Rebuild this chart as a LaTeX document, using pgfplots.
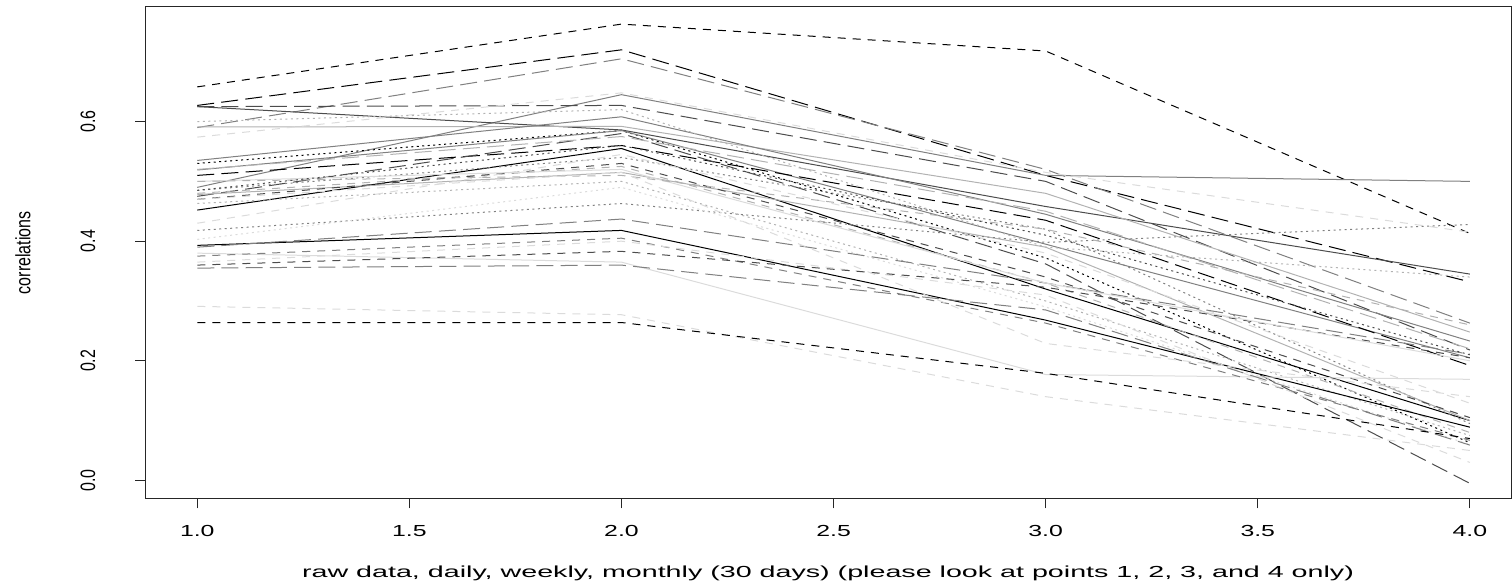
\documentclass[border=0pt]{standalone}
\usepackage{fontspec}
\setmainfont{Liberation Sans}
\usepackage{pgfplots}
\pgfplotsset{compat=1.18}
\newcommand\hx[1]{\scalebox{1.55}[1]{#1}}
\newcommand\hxl[1]{\scalebox{1.79}[1]{#1}}
\newcommand\vy[1]{\scalebox{1}[1.3]{#1}}
\definecolor{c1}{gray}{0}
\definecolor{c2}{gray}{0.3}
\definecolor{c3}{gray}{0.5}
\definecolor{c4}{gray}{0.7}
\definecolor{c5}{gray}{0.86}
\pgfplotsset{
  sl/.style={solid, line width=0.5pt},
  dl/.style={line width=0.5pt, dash pattern=on 4pt off 3.5pt},
  ll/.style={line width=0.5pt, dash pattern=on 8.5pt off 3.6pt},
  ol/.style={line width=0.5pt, dash pattern=on 1pt off 1.75pt},
}
\begin{document}
\begin{tikzpicture}
\begin{axis}[
  scale only axis, width=682.5pt, height=245.5pt,
  xmin=0.877, xmax=4.097, ymin=-0.03, ymax=0.7916,
  axis line style={line width=0.5pt, black!85},
  tick align=outside, xtick pos=bottom, ytick pos=left,
  major tick length=5pt,
  tick style={line width=0.5pt, black!85},
  font=\fontsize{8}{9.6}\selectfont,
  xtick={1,1.5,2,2.5,3,3.5,4},
  xticklabels={\hx{1.0},\hx{1.5},\hx{2.0},\hx{2.5},\hx{3.0},\hx{3.5},\hx{4.0}},
  ytick={0,0.2,0.4,0.6},
  yticklabels={\vy{0.0},\vy{0.2},\vy{0.4},\vy{0.6}},
  xticklabel style={anchor=north},
  xticklabel shift=4.8pt,
  yticklabel style={rotate=90, anchor=south},
  yticklabel shift=16.3pt,
  every axis x label/.style={at={(axis description cs:0.5,0)}, anchor=base, yshift=-39.5pt},
  every axis y label/.style={at={(axis description cs:-0.0895,0.5)}, rotate=90, anchor=center},
  xlabel={\hxl{raw data, daily, weekly, monthly (30 days) (please look at points 1, 2, 3, and 4 only)}},
  ylabel={\vy{correlations}},
  clip=true,
]
\addplot[dl, c1] coordinates {(1,0.658) (2,0.763) (3,0.718) (4,0.413)};
\addplot[ll, c1] coordinates {(1,0.627) (2,0.720) (3,0.510) (4,0.332)};
\addplot[ll, c3] coordinates {(1,0.590) (2,0.705) (3,0.520) (4,0.263)};
\addplot[sl, c3] coordinates {(1,0.490) (2,0.645) (3,0.510) (4,0.500)};
\addplot[ll, c2] coordinates {(1,0.625) (2,0.627) (3,0.500) (4,0.218)};
\addplot[sl, c2] coordinates {(1,0.625) (2,0.586) (3,0.458) (4,0.345)};
\addplot[sl, c4] coordinates {(1,0.591) (2,0.592) (3,0.480) (4,0.248)};
\addplot[dl, c5] coordinates {(1,0.574) (2,0.648) (3,0.515) (4,0.415)};
\addplot[sl, c3] coordinates {(1,0.535) (2,0.608) (3,0.445) (4,0.233)};
\addplot[ol, c1] coordinates {(1,0.530) (2,0.585) (3,0.372) (4,0.063)};
\addplot[sl, c3] coordinates {(1,0.519) (2,0.585) (3,0.395) (4,0.205)};
\addplot[ll, c1] coordinates {(1,0.510) (2,0.560) (3,0.435) (4,0.192)};
\addplot[sl, c1] coordinates {(1,0.452) (2,0.555) (3,0.320) (4,0.100)};
\addplot[ll, c2] coordinates {(1,0.475) (2,0.580) (3,0.362) (4,-0.005)};
\addplot[ol, c3] coordinates {(1,0.485) (2,0.540) (3,0.420) (4,0.095)};
\addplot[dl, c4] coordinates {(1,0.480) (2,0.525) (3,0.330) (4,0.080)};
\addplot[sl, c4] coordinates {(1,0.478) (2,0.515) (3,0.390) (4,0.100)};
\addplot[dl, c2] coordinates {(1,0.470) (2,0.530) (3,0.340) (4,0.105)};
\addplot[ol, c4] coordinates {(1,0.463) (2,0.500) (3,0.300) (4,0.075)};
\addplot[dl, c5] coordinates {(1,0.430) (2,0.545) (3,0.380) (4,0.129)};
\addplot[ol, c3] coordinates {(1,0.418) (2,0.463) (3,0.398) (4,0.428)};
\addplot[ol, c5] coordinates {(1,0.403) (2,0.490) (3,0.290) (4,0.060)};
\addplot[sl, c1] coordinates {(1,0.393) (2,0.418) (3,0.268) (4,0.089)};
\addplot[ll, c3] coordinates {(1,0.390) (2,0.437) (3,0.330) (4,0.211)};
\addplot[sl, c5] coordinates {(1,0.380) (2,0.365) (3,0.177) (4,0.169)};
\addplot[dl, c3] coordinates {(1,0.375) (2,0.405) (3,0.263) (4,0.067)};
\addplot[dl, c5] coordinates {(1,0.365) (2,0.400) (3,0.310) (4,0.030)};
\addplot[dl, c2] coordinates {(1,0.360) (2,0.383) (3,0.323) (4,0.205)};
\addplot[ll, c3] coordinates {(1,0.355) (2,0.360) (3,0.285) (4,0.059)};
\addplot[dl, c5] coordinates {(1,0.291) (2,0.277) (3,0.140) (4,0.050)};
\addplot[dl, c1] coordinates {(1,0.264) (2,0.264) (3,0.179) (4,0.070)};
\addplot[sl, c5] coordinates {(1,0.500) (2,0.520) (3,0.330) (4,0.200)};
\addplot[ol, c4] coordinates {(1,0.600) (2,0.620) (3,0.390) (4,0.340)};
\addplot[ll, c4] coordinates {(1,0.520) (2,0.575) (3,0.450) (4,0.220)};
\addplot[dl, c4] coordinates {(1,0.500) (2,0.510) (3,0.420) (4,0.260)};
\addplot[dl, c5] coordinates {(1,0.470) (2,0.515) (3,0.229) (4,0.140)};
\addplot[ol, c2] coordinates {(1,0.485) (2,0.560) (3,0.410) (4,0.210)};
\end{axis}
\path ([xshift=-72.5pt,yshift=-41pt]current axis.south west) rectangle ([xshift=0.5pt,yshift=3.5pt]current axis.north east);
\end{tikzpicture}
\end{document}
